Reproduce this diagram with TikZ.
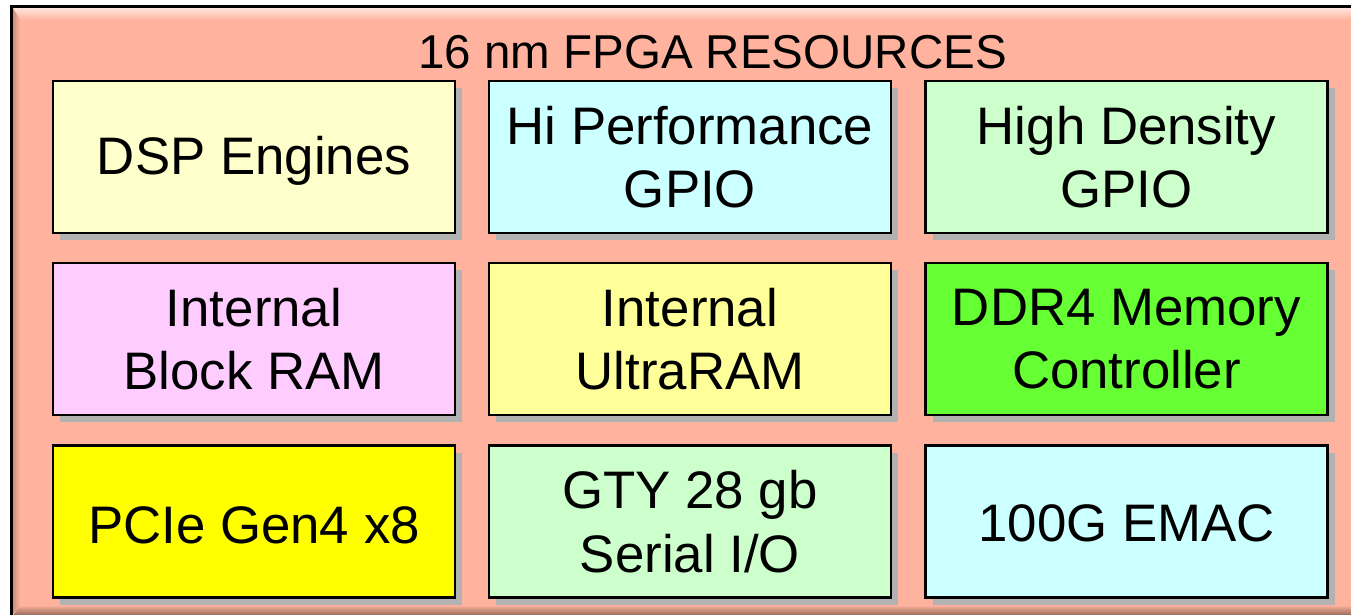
\documentclass[tikz,border=0pt]{standalone}
\usepackage{fontspec}
\setmainfont{Liberation Sans}
\usetikzlibrary{shadows}
\definecolor{salmonbg}{HTML}{FFB39E}
\definecolor{cLY}{HTML}{FFFFCC}
\definecolor{cLC}{HTML}{CCFFFF}
\definecolor{cLG}{HTML}{CCFFCC}
\definecolor{cLP}{HTML}{FFCCFF}
\definecolor{cYL}{HTML}{FFFF99}
\definecolor{cGR}{HTML}{66FF33}
\definecolor{cYE}{HTML}{FFFF00}
\definecolor{shadowgray}{HTML}{B2B2B2}
\tikzset{
  resbox/.style={draw=black, line width=2.6pt, minimum width=402pt, minimum height=152pt,
    inner sep=0pt, align=center, font=\fontsize{52.8}{63.5}\selectfont,
    drop shadow={shadow xshift=7pt, shadow yshift=-7pt, fill=shadowgray, opacity=1}},
  titletext/.style={font=\fontsize{47.5}{57}\selectfont, inner sep=0pt, anchor=base}
}
\begin{document}
\begin{tikzpicture}[x=1pt,y=-1pt]
\useasboundingbox (0,0) rectangle (1351,614);
% outer panel
\fill[salmonbg] (11.5,6.5) rectangle (1370,630);
\shade[top color=salmonbg!35!white, bottom color=salmonbg] (13,8) -- (1370,8) -- (1370,20) -- (20,20) -- cycle;
\shade[left color=salmonbg!80!black, right color=salmonbg] (13,8) -- (20,20) -- (20,605) -- (13,614) -- cycle;
\shade[top color=salmonbg, bottom color=salmonbg!55!black] (20,605) -- (1370,605) -- (1370,616) -- (13,616) -- cycle;
\draw[line width=3pt, black] (11.5,630) -- (11.5,6.5) -- (1370,6.5);
\coordinate (outer) at (11.5,6.5);
\node[titletext] (title) at (712.5,68) {16 nm FPGA RESOURCES};
% row 1
\node[resbox, fill=cLY, text height=34.6pt, text depth=0pt] (dsp)  at (254,157) {DSP Engines};
\node[resbox, fill=cLC] (hpio) at (690,157) {Hi Performance\\GPIO};
\node[resbox, fill=cLG] (hdio) at (1126.5,157) {High Density\\GPIO};
% row 2
\node[resbox, fill=cLP] (bram) at (254,339) {Internal\\Block RAM};
\node[resbox, fill=cYL] (uram) at (690,339) {Internal\\UltraRAM};
\node[resbox, fill=cGR] (ddr)  at (1126.5,339) {DDR4 Memory\\Controller};
% row 3
\node[resbox, fill=cYE, text height=43.6pt, text depth=0pt] (pcie) at (254,521.5) {PCIe Gen4 x8};
\node[resbox, fill=cLG] (gty)  at (690,521.5) {GTY 28 gb\\Serial I/O};
\node[resbox, fill=cLC, text height=40pt, text depth=0pt] (emac) at (1126.5,521.5) {100G EMAC};
\end{tikzpicture}
\end{document}
